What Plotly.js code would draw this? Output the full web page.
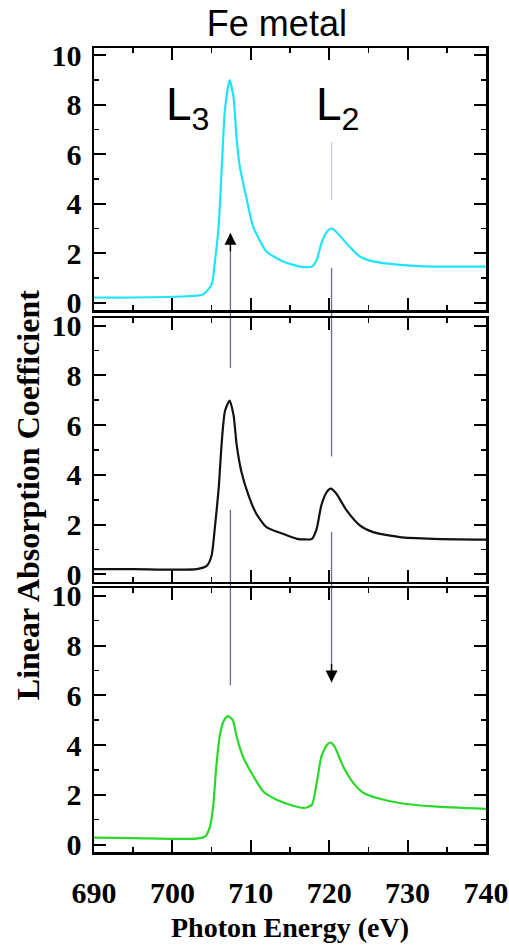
<!DOCTYPE html>
<html>
<head>
<meta charset="utf-8">
<script src="https://cdn.plot.ly/plotly-3.0.1.min.js"></script>
<style>html,body{margin:0;padding:0;background:#fff;}#chart{width:509px;height:945px;}</style>
</head>
<body>
<div id="chart"></div>
<script>
// ---- Data ----
const energyTop = [690,695,701.8,703.9,705.0,705.4,705.9,706.3,706.7,707.3,707.8,708.2,708.6,709.5,710.3,712.0,714.1,716.3,717.8,718.4,719.0,719.7,720.3,720.9,722.2,723.9,725.6,729.0,733.3,740];
const absorbTop = [0.21,0.21,0.26,0.33,0.73,1.6,3.1,5.5,7.8,9.0,8.3,6.6,5.5,4.15,3.08,2.07,1.67,1.46,1.46,1.73,2.4,2.87,3.0,2.87,2.4,1.87,1.67,1.53,1.46,1.46];

const energyMid = [690,695,703.1,704.4,705.0,705.4,705.9,706.3,706.7,707.3,707.8,708.2,708.8,709.7,710.7,712.0,714.1,715.9,717.8,718.4,719.0,719.7,720.2,720.9,722.2,723.9,725.6,729.0,733.3,740];
const absorbMid = [0.21,0.21,0.21,0.35,0.76,1.83,3.45,5.34,6.56,6.99,6.4,5.2,4.13,3.19,2.44,1.9,1.63,1.43,1.43,1.83,2.78,3.32,3.45,3.25,2.58,1.97,1.7,1.5,1.43,1.4];

const energyBot = [690,695,703.1,704.2,704.8,705.2,705.6,706.1,706.6,707.1,707.7,708.2,709.0,710.1,711.6,713.3,715.4,716.9,717.8,718.4,719.0,719.7,720.2,720.7,721.8,723.1,724.4,726.1,729.0,733.3,740];
const absorbBot = [0.28,0.26,0.24,0.33,0.73,1.53,3.13,4.47,5.0,5.16,5.0,4.33,3.53,2.87,2.13,1.8,1.56,1.47,1.6,2.47,3.53,4.0,4.1,3.93,3.13,2.47,2.07,1.87,1.67,1.53,1.43];

const xTickVals = [690,700,710,720,730,740];
const yTickVals = [0,2,4,6,8,10];

// Edge markers: energy of each edge line
const edgeEnergies = {L3: 707.4, L2: 720.3};
// line segments: [edge, fromPanel, fromValue, toPanel, toValue, faint]
const edgeSegments = [
  ['L3', 0, 2.82, 1, 8.3, false],
  ['L3', 1, 2.6, 2, 6.4, false],
  ['L2', 0, 6.5, 0, 4.15, true],
  ['L2', 0, 1.41, 1, 4.74, false],
  ['L2', 1, 1.7, 2, 6.52, false]
];
// arrow heads: [edge, panel, value, direction]
const edgeArrows = [['L3', 0, 2.82, 'up'], ['L2', 2, 6.52, 'down']];
const edgeLabels = [['L', '3', 702.0, 7.9], ['L', '2', 721.1, 7.9]];

// ---- Layout ----
const yRange = [-0.3, 10.3];
const domains = [[0.674, 1.0], [0.336, 0.664], [0.0, 0.328]];
const serif = 'Liberation Serif, Times New Roman, serif';

function toPaper(panel, v) {
  const d = domains[panel];
  return d[0] + (v - yRange[0]) / (yRange[1] - yRange[0]) * (d[1] - d[0]);
}

const common = {
  showline: true, linecolor: '#000', linewidth: 2.5, mirror: 'ticks',
  ticks: 'inside', tickcolor: '#000', tickwidth: 2, ticklen: 12,
  showgrid: false, zeroline: false,
  tickfont: {family: serif, size: 30, weight: 'bold', color: '#000'}
};
function xAxis(showLabels, anchor) {
  return Object.assign({}, common, {
    range: [690, 740], tickvals: xTickVals, showticklabels: showLabels, anchor: anchor,
    minor: {dtick: 5, tick0: 690, ticks: 'inside', ticklen: 5, tickwidth: 1.5, tickcolor: '#000'},
    ticklabelstandoff: 12
  });
}
function yAxis(dom, anchor) {
  return Object.assign({}, common, {
    range: yRange, domain: dom, tickvals: yTickVals, anchor: anchor,
    minor: {dtick: 1, tick0: 0, ticks: 'inside', ticklen: 5, tickwidth: 1.5, tickcolor: '#000'},
    ticklabelstandoff: 4
  });
}

const traces = [
  {x: energyTop, y: absorbTop, xaxis: 'x', yaxis: 'y', mode: 'lines', line: {color: '#1fe3fa', width: 2.2, shape: 'spline', smoothing: 0.6}, name: 'top'},
  {x: energyMid, y: absorbMid, xaxis: 'x2', yaxis: 'y2', mode: 'lines', line: {color: '#111', width: 2.2, shape: 'spline', smoothing: 0.6}, name: 'middle'},
  {x: energyBot, y: absorbBot, xaxis: 'x3', yaxis: 'y3', mode: 'lines', line: {color: '#2ad82a', width: 2.2, shape: 'spline', smoothing: 0.6}, name: 'bottom'}
];

const shapes = edgeSegments.map(s => ({
  type: 'line', xref: 'x', yref: 'paper', layer: 'below',
  x0: edgeEnergies[s[0]], x1: edgeEnergies[s[0]],
  y0: toPaper(s[1], s[2]), y1: toPaper(s[3], s[4]),
  line: {color: s[5] ? '#c9cbe0' : '#6c6a9c', width: 1.3}
}));

const axNames = ['', '2', '3'];
const annotations = [];
edgeArrows.forEach(a => {
  const p = axNames[a[1]];
  annotations.push({
    xref: 'x' + p, yref: 'y' + p, axref: 'x' + p, ayref: 'y' + p,
    x: edgeEnergies[a[0]], y: a[2], ax: edgeEnergies[a[0]], ay: a[3] === 'up' ? a[2] - 0.8 : a[2] + 0.8,
    text: '', showarrow: true, arrowhead: 2, arrowsize: 1.7, arrowwidth: 1.4, arrowcolor: '#000'
  });
});
edgeLabels.forEach(l => {
  annotations.push({
    xref: 'x', yref: 'y', x: l[2], y: l[3], text: l[0] + '<sub>' + l[1] + '</sub>',
    showarrow: false, xanchor: 'center', yanchor: 'middle',
    font: {family: 'Liberation Sans, Arial, sans-serif', size: 46, color: '#000'}
  });
});
annotations.push({
  xref: 'paper', yref: 'paper', x: -0.168, y: 0.444, textangle: -90,
  text: 'Linear Absorption Coefficient', showarrow: false, xanchor: 'center', yanchor: 'middle',
  font: {family: serif, size: 32, weight: 'bold', color: '#000'}
});

const layout = {
  width: 509, height: 945,
  margin: {l: 94, r: 23, t: 48, b: 93},
  paper_bgcolor: '#fff', plot_bgcolor: '#fff',
  showlegend: false,
  title: {text: 'Fe metal', x: 0.544, xanchor: 'center', y: 0.975, yanchor: 'middle',
          font: {family: 'Liberation Sans, Arial, sans-serif', size: 36, color: '#000'}},
  xaxis: xAxis(false, 'y'),
  xaxis2: xAxis(false, 'y2'),
  xaxis3: Object.assign(xAxis(true, 'y3'), {title: {text: 'Photon Energy (eV)', standoff: 10,
          font: {family: serif, size: 28, weight: 'bold', color: '#000'}}}),
  yaxis: yAxis(domains[0], 'x'),
  yaxis2: yAxis(domains[1], 'x2'),
  yaxis3: yAxis(domains[2], 'x3'),
  shapes: shapes,
  annotations: annotations
};

Plotly.newPlot('chart', traces, layout, {displayModeBar: false, staticPlot: true});
</script>
</body>
</html>
